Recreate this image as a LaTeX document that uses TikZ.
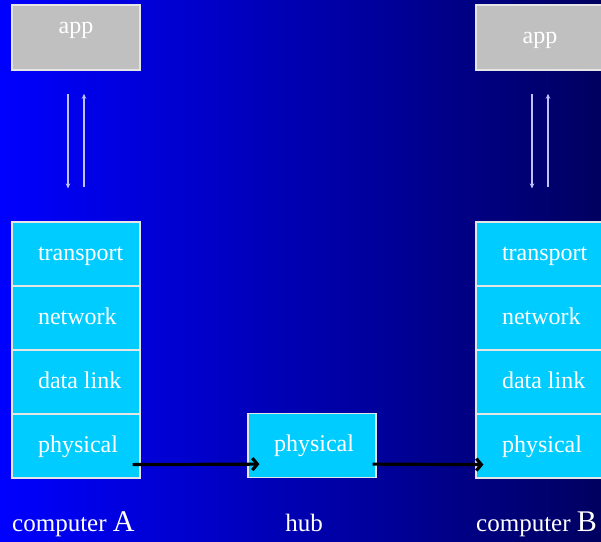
\documentclass[tikz,border=0pt]{standalone}
\usepackage{fontspec}
\setmainfont{Liberation Serif}
\usetikzlibrary{arrows.meta}
\definecolor{bgL}{RGB}{0,0,255}
\definecolor{bgR}{RGB}{0,0,96}
\definecolor{layer}{RGB}{0,204,255}
\definecolor{appgray}{RGB}{192,192,192}
\definecolor{lav}{RGB}{192,192,255}
\newcommand{\lefttxt}[1]{\makebox[76pt][l]{#1}}
\begin{document}
\begin{tikzpicture}[x=1pt,y=-1pt,
  every node/.style={font=\fontsize{24}{28}\selectfont, text=white, inner sep=0pt},
  appbox/.style={draw=white!90!black, line width=1.5pt, fill=appgray, minimum width=128pt, minimum height=65pt, text height=16pt, text depth=3.5pt},
  layerbox/.style={draw=white!90!black, line width=1.2pt, fill=layer, minimum width=128pt, minimum height=64pt, text height=16pt, text depth=3.5pt},
  apparrow/.style={draw=lav, line width=1.8pt, -{Stealth[length=5pt,width=4.5pt]}},
  linkarrow/.style={draw=black, line width=3.2pt, -{Straight Barb[length=5pt,width=12pt]}},
  biglabel/.style={anchor=base west, font=\fontsize{25}{28}\selectfont}
]
\clip (0,0) rectangle (601,541);
\shade[left color=bgL, right color=bgR] (0,0) rectangle (601,541);
% computer A
\node[appbox] (appA) at (76,37.5) {};
\node[anchor=base] (appAtxt) at (76,33) {app};
\node[layerbox] (transA) at (76,254) {\lefttxt{transport}};
\node[layerbox] (netA) at (76,318) {\lefttxt{network}};
\node[layerbox] (dlA) at (76,382) {\lefttxt{data link}};
\node[layerbox] (physA) at (76,446) {\lefttxt{physical}};
% hub
\node[layerbox] (hub) at (312,445.5) {\lefttxt{physical}};
% computer B
\node[appbox] (appB) at (540,37.5) {app};
\node[layerbox] (transB) at (540,254) {\lefttxt{transport}};
\node[layerbox] (netB) at (540,318) {\lefttxt{network}};
\node[layerbox] (dlB) at (540,382) {\lefttxt{data link}};
\node[layerbox] (physB) at (540,446) {\lefttxt{physical}};
% app <-> transport arrows
\draw[apparrow] ([xshift=-8pt,yshift=-23pt]appA.south) -- ([xshift=-8pt,yshift=33pt]transA.north);
\draw[apparrow] ([xshift=8pt,yshift=34pt]transA.north) -- ([xshift=8pt,yshift=-23pt]appA.south);
\draw[apparrow] ([xshift=-8pt,yshift=-23pt]appB.south) -- ([xshift=-8pt,yshift=33pt]transB.north);
\draw[apparrow] ([xshift=8pt,yshift=34pt]transB.north) -- ([xshift=8pt,yshift=-23pt]appB.south);
% links
\draw[linkarrow] ([xshift=-8pt,yshift=14pt]physA.south east) -- ([xshift=12pt,yshift=14pt]hub.south west);
\draw[linkarrow] ([xshift=-4pt,yshift=14pt]hub.south east) -- ([xshift=8pt,yshift=14pt]physB.south west);
% labels
\node[biglabel] (labA) at (12,531.5) {computer \fontsize{30}{32}\selectfont A};
\node[anchor=base, font=\fontsize{25}{28}\selectfont] (labHub) at (304,531.5) {hub};
\node[biglabel] (labB) at (476,531.5) {computer \fontsize{30}{32}\selectfont B};
\end{tikzpicture}
\end{document}
